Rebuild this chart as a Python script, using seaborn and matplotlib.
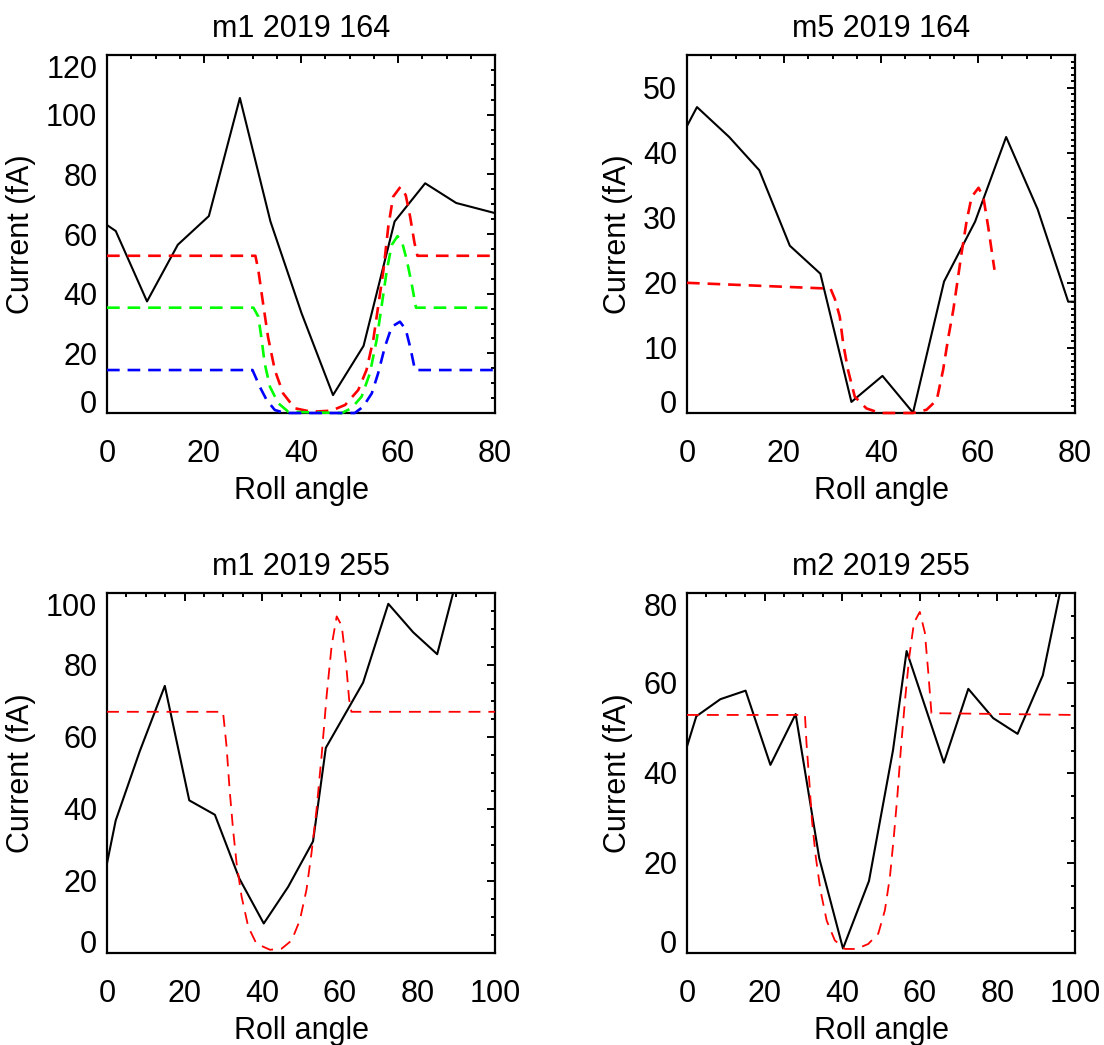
import matplotlib
matplotlib.use("Agg")
import matplotlib.pyplot as plt
from matplotlib.ticker import MultipleLocator
import seaborn as sns

# ---- data ----
# panel 1: m1 2019 164
p1_x = [0, 1.8, 8.25, 14.6, 21.0, 27.4, 33.7, 40.1, 46.6, 52.9, 59.3, 65.6, 72.0, 80.0]
p1_y = [63, 61, 37.4, 56.4, 66, 105.6, 64.2, 33.5, 6, 22.5, 64.2, 77, 70.4, 67]
p1_red_x = [0, 30.6, 31.2, 32.2, 33.2, 34.6, 36.3, 38.7, 42.2, 46.3, 49.1, 51.8, 53.5, 54.9,
            55.9, 57.0, 58.0, 59.0, 60.5, 61.6, 62.5, 63.4, 64.0, 80]
p1_red_y = [52.7, 52.7, 47.9, 36.5, 25.5, 14.4, 6.6, 1.6, 0.4, 0.8, 2.7, 7.7, 14.4, 24.5,
            35.6, 47.9, 62.5, 72.5, 75.8, 73.0, 65.8, 57.0, 52.7, 52.7]
p1_green_x = [0, 30.2, 31.2, 31.9, 32.5, 33.6, 35.3, 37.4, 48.4, 50.4, 52.5, 54.2, 55.6,
              56.6, 57.7, 58.7, 59.9, 60.9, 61.8, 62.8, 63.7, 80]
p1_green_y = [35.3, 35.3, 32.3, 24.5, 16.7, 8.8, 3.3, 0.4, 0, 1.6, 5.5, 13.3, 24.5,
              35.6, 47.9, 56.3, 59.3, 56.9, 51.3, 43.5, 35.3, 35.3]
p1_blue_x = [0, 30.0, 31.5, 32.9, 34.6, 36.7, 51.1, 52.8, 54.6, 55.9, 57.3, 58.7, 60.4,
             61.6, 62.6, 63.5, 80]
p1_blue_y = [14.4, 14.4, 8.8, 4.4, 1.0, 0, 0, 2.1, 6.6, 13.3, 22.2, 28.9, 30.6,
             28.0, 21.5, 14.4, 14.4]

# panel 2: m5 2019 164
p2_x = [0, 2.06, 8.7, 14.9, 21.2, 27.5, 33.9, 40.3, 46.6, 53.0, 59.4, 65.8, 72.3, 78.6, 80]
p2_y = [44.1, 47.0, 42.4, 37.3, 25.7, 21.4, 1.7, 5.7, 0.05, 20.2, 29.4, 42.4, 31.3, 17.1, 17.1]
p2_red_x = [0, 29.6, 30.5, 31.5, 32.2, 33.2, 34.6, 37.0, 39.8, 46.6, 49.4, 51.5, 52.8, 53.9,
            54.9, 55.6, 56.6, 57.7, 58.7, 60.1, 61.1, 62.1, 63.4]
p2_red_y = [20.0, 19.1, 17.5, 14.8, 10.7, 6.6, 2.5, 0.7, 0, 0, 0.5, 2.0, 6.6, 11.7,
            15.8, 19.4, 24.5, 29.7, 33.2, 34.6, 33.2, 28.6, 22.0]

# panel 3: m1 2019 255
p3_x = [0, 2.24, 8.46, 14.9, 21.2, 27.8, 34.1, 40.4, 46.7, 53.1, 56.4, 66.0, 72.5, 78.9, 85.1, 89.2]
p3_y = [24.9, 36.8, 56.1, 74.2, 42.4, 38.4, 20.7, 8.2, 18.4, 31.0, 57.0, 75.1, 97.0, 89.1, 83.0, 100]
p3_red_x = [0, 29.9, 30.8, 31.6, 32.5, 33.4, 34.7, 36.4, 38.5, 42.0, 45.0, 47.6, 49.7, 51.4,
            52.7, 54.0, 55.3, 56.6, 57.9, 59.2, 60.5, 61.6, 62.4, 63.0, 100]
p3_red_y = [67.0, 67.0, 57.5, 45.4, 34.2, 24.9, 15.6, 7.3, 2.6, 0.9, 1.2, 3.5, 9.1, 17.5,
            27.7, 39.8, 54.7, 71.4, 85.4, 93.5, 90.9, 80.7, 70.5, 67.0, 67.0]

# panel 4: m2 2019 255
p4_x = [0, 2.4, 8.6, 15.1, 21.5, 28.0, 34.1, 40.2, 46.9, 53.1, 56.6, 66.2, 72.5, 78.9, 85.2, 91.7, 96.1]
p4_y = [45.9, 52.6, 56.4, 58.3, 41.8, 53.1, 21.0, 1.0, 16.0, 45.1, 67.1, 42.3, 58.7, 52.2, 48.7, 61.7, 80]
p4_red_x = [0, 30.4, 30.8, 31.5, 32.2, 33.2, 34.4, 36.0, 38.1, 40.7, 43.7, 46.7, 49.3, 51.0,
            52.3, 53.3, 54.2, 55.1, 56.2, 57.3, 58.5, 60.0, 61.3, 62.2, 63.0, 100]
p4_red_y = [52.9, 52.9, 46.6, 38.4, 29.5, 21.3, 13.9, 7.2, 2.8, 0.9, 0.9, 2.0, 4.3, 9.5,
            16.9, 25.8, 34.7, 45.1, 56.3, 65.9, 73.4, 75.8, 71.2, 62.2, 53.3, 52.9]

titles = ["m1 2019 164", "m5 2019 164", "m1 2019 255", "m2 2019 255"]

sns.set_theme(style="white")
plt.rcParams['font.family'] = ['Liberation Sans', 'DejaVu Sans']
plt.rcParams['font.size'] = 22
plt.rcParams['axes.linewidth'] = 1.6
plt.rcParams['text.color'] = 'black'
plt.rcParams['axes.labelcolor'] = 'black'
plt.rcParams['xtick.color'] = 'black'
plt.rcParams['ytick.color'] = 'black'

fig, axes = plt.subplots(2, 2, figsize=(11.04, 10.45), dpi=100)
ax1, ax2, ax3, ax4 = axes.flat

W = 388 / 1104
H = 358 / 1045
ax1.set_position([107 / 1104, 1 - 413 / 1045, W, H])
ax2.set_position([687 / 1104, 1 - 413 / 1045, W, H])
ax3.set_position([107 / 1104, 1 - 953 / 1045, W, 360 / 1045])
ax4.set_position([687 / 1104, 1 - 953 / 1045, W, 360 / 1045])


def black(ax, x, y):
    sns.lineplot(x=x, y=y, ax=ax, color="black", linewidth=1.5, sort=False, estimator=None)


def model(ax, x, y, c, lw, dash):
    sns.lineplot(x=x, y=y, ax=ax, color=c, linewidth=lw, sort=False, estimator=None,
                 linestyle=(0, dash), clip_on=False, zorder=3)


thick = (4.8, 3.0)
thin = (6.6, 4.4)

black(ax1, p1_x, p1_y)
model(ax1, p1_red_x, p1_red_y, "#ff0000", 1.9, thick)
model(ax1, p1_green_x, p1_green_y, "#00ff00", 1.9, thick)
model(ax1, p1_blue_x, p1_blue_y, "#0000ff", 1.9, thick)

black(ax2, p2_x, p2_y)
model(ax2, p2_red_x, p2_red_y, "#ff0000", 1.9, thick)

black(ax3, p3_x, p3_y)
model(ax3, p3_red_x, p3_red_y, "#ff0000", 1.3, thin)

black(ax4, p4_x, p4_y)
model(ax4, p4_red_x, p4_red_y, "#ff0000", 1.3, thin)

limits = [(80, 120, 20, 5), (80, 55, 10, 1), (100, 100, 20, 5), (100, 80, 20, 5)]
for ax, t, (xmax, ymax, ymaj, ymin) in zip(axes.flat, titles, limits):
    ax.set_xlim(0, xmax)
    ax.set_ylim(0, ymax)
    ax.set_xticks(list(range(0, xmax + 1, 20)))
    ax.set_yticks(list(range(0, ymax + 1, ymaj)))
    ax.xaxis.set_minor_locator(MultipleLocator(5))
    ax.yaxis.set_minor_locator(MultipleLocator(ymin))
    ax.tick_params(which="both", direction="in", top=True, right=True, width=1.4,
                   color="black", labelcolor="black")
    ax.tick_params(which="major", length=6)
    ax.tick_params(which="minor", length=3)
    ax.tick_params(axis="x", which="major", pad=19, labelsize=22)
    ax.tick_params(axis="y", which="major", pad=7, labelsize=22)
    for s in ax.spines.values():
        s.set_color("black")
        s.set_linewidth(1.6)
    ax.set_title(t, fontsize=22, pad=13, color="black")
    ax.set_xlabel("Roll angle", fontsize=22, labelpad=5)
    ax.set_ylabel("Current (fA)", fontsize=22, labelpad=7)
    yt = ax.yaxis.get_major_ticks()
    yt[0].label1.set_verticalalignment("baseline")
    if ymax % ymaj == 0:
        yt[-1].label1.set_verticalalignment("top")

fig.savefig("out.png", dpi=100)
